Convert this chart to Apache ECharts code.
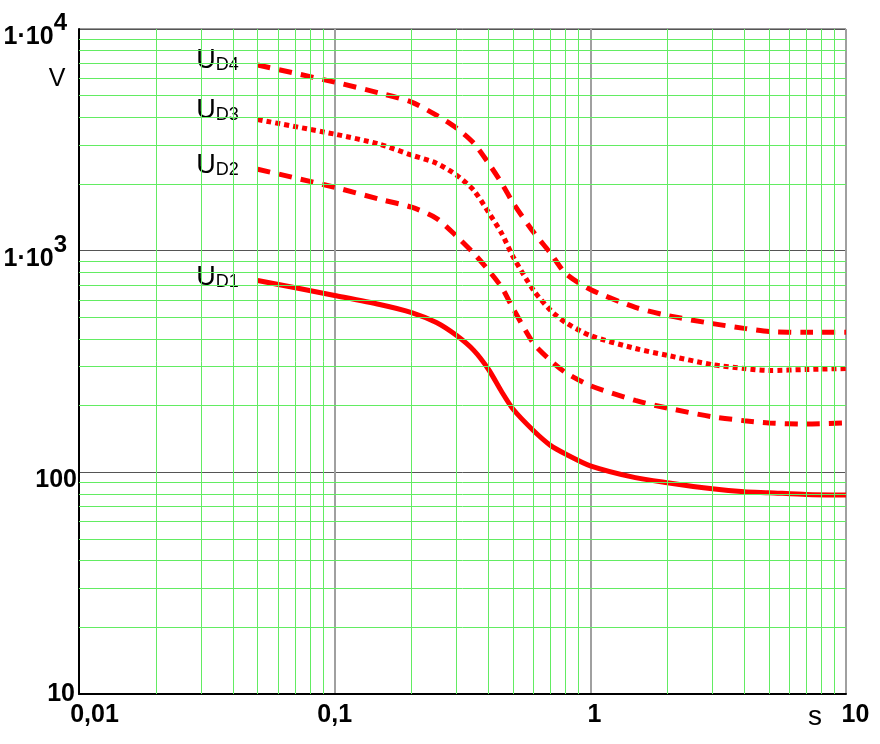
<!DOCTYPE html>
<html><head><meta charset="utf-8">
<script src="https://cdn.jsdelivr.net/npm/echarts@6/dist/echarts.min.js"></script>
<style>html,body{margin:0;padding:0;background:#fff}#c{width:880px;height:744px}</style>
</head><body><div id="c"></div>
<script>
// time axis (s)
const timeS = [0.05, 0.1, 0.15, 0.2, 0.25, 0.3, 0.35, 0.4, 0.45, 0.5, 0.6, 0.7, 0.8, 1, 1.5, 2, 3, 4, 5, 7, 10];
// voltages (V)
const ud1 = [734, 628, 572, 526, 474, 414, 355, 291, 231, 192, 154, 132, 121, 107, 94.6, 89.8, 84.3, 81.7, 80.9, 79.5, 79];
const ud2 = [2330, 1932, 1706, 1570, 1400, 1161, 972, 815, 683, 545, 381, 319, 282, 246, 211, 195, 178, 171, 167, 165, 167];
const ud3 = [3900, 3355, 3020, 2697, 2480, 2190, 1872, 1489, 1197, 933, 662, 537, 474, 414, 362, 337, 306, 294, 288, 291, 294];
const ud4 = [6880, 5760, 5140, 4680, 4085, 3570, 3055, 2480, 2015, 1636, 1210, 972, 789, 668, 555, 510, 469, 446, 432, 428, 428];
const seriesNames = ['D1', 'D2', 'D3', 'D4'];

// tick labels
const xTicks = [0.01, 0.1, 1, 10];
const xTickText = ['0,01', '0,1', '1', '10'];
const yTicks = [10, 100, 1000, 10000];
const yTickText = ['10', '100', '1·10', '1·10'];
const yTickExp = ['', '', '3', '4'];
const xUnit = 's';
const yUnit = 'V';

// minor grid lines
const xMinor = [0.02, 0.03, 0.04, 0.05, 0.06, 0.07, 0.08, 0.09, 0.2, 0.3, 0.4, 0.5, 0.6, 0.7, 0.8, 0.9, 2, 3, 4, 5, 6, 7, 8, 9];
const yMinor = [20, 30, 40, 50, 60, 70, 80, 90, 200, 300, 400, 500, 600, 700, 800, 900, 2000, 3000, 4000, 5000, 6000, 7000, 8000, 9000];

const FONT = "'Liberation Sans',Arial,sans-serif";
const RED = '#ff0000';
const GREEN = '#62ec62';
const TF = 25; // tick font size

function nearestIdx(arr, v) {
  let best = 0, bd = Infinity;
  arr.forEach((a, i) => { const d = Math.abs(Math.log10(a) - Math.log10(v)); if (d < bd) { bd = d; best = i; } });
  return best;
}

function curve(vals, name, dash, dy) {
  return {
    type: 'line', z: 3, symbol: 'circle', symbolSize: 0, showSymbol: true,
    smooth: 0.25, silent: true, animation: false,
    emphasis: { disabled: true },
    lineStyle: { color: RED, width: 5, type: dash, cap: 'butt' },
    itemStyle: { color: RED },
    data: timeS.map((t, i) => i === 0 ? {
      value: [t, vals[i]],
      label: {
        show: true, position: 'left', distance: 3, offset: [0, dy],
        formatter: '{u|U}{s|' + name + '}',
        backgroundColor: '#fff', padding: [5, 16, 12, 2],
        rich: {
          u: { fontSize: 27, lineHeight: 27, fontFamily: FONT, color: '#000', verticalAlign: 'top' },
          s: { fontSize: 18, lineHeight: 18, fontFamily: FONT, color: '#000', verticalAlign: 'bottom', padding: [12, 0, 0, 0] }
        }
      }
    } : [t, vals[i]])
  };
}

const chart = echarts.init(document.getElementById('c'), null, { renderer: 'canvas' });
chart.setOption({
  animation: false,
  backgroundColor: '#fff',
  grid: { left: 79, right: 34, top: 29, bottom: 50, containLabel: false, outerBoundsMode: 'none', show: true, borderColor: '#333', borderWidth: 1, backgroundColor: 'transparent' },
  xAxis: {
    type: 'log', logBase: 10, min: 0.01, max: 10,
    axisLine: { show: true, lineStyle: { color: '#000', width: 2 } },
    axisTick: { show: false },
    splitLine: { show: true, lineStyle: { color: '#a0a0a0', width: 2 } },
    axisLabel: {
      show: true, margin: 9, showMinLabel: true, showMaxLabel: true, hideOverlap: false,
      fontSize: TF, fontWeight: 'bold', fontFamily: FONT, color: '#000',
      formatter: v => {
        const i = nearestIdx(xTicks, v);
        const k = ['l', 'c', 'r1', 'r2'][i];
        return '{' + k + '|' + xTickText[i] + '}';
      },
      rich: {
        l: { fontSize: TF, fontWeight: 'bold', fontFamily: FONT, color: '#000', padding: [0, 0, 0, 31] },
        c: { fontSize: TF, fontWeight: 'bold', fontFamily: FONT, color: '#000' },
        r1: { fontSize: TF, fontWeight: 'bold', fontFamily: FONT, color: '#000', padding: [0, 0, 0, 8] },
        r2: { fontSize: TF, fontWeight: 'bold', fontFamily: FONT, color: '#000', padding: [0, 0, 0, 19] }
      }
    }
  },
  yAxis: {
    type: 'log', logBase: 10, min: 10, max: 10000,
    axisLine: { show: true, lineStyle: { color: '#000', width: 2 } },
    axisTick: { show: false },
    splitLine: { show: true, lineStyle: { color: '#555', width: 1 } },
    axisLabel: {
      show: true, margin: 2, showMinLabel: true, showMaxLabel: true, hideOverlap: false,
      fontSize: TF, fontWeight: 'bold', fontFamily: FONT, color: '#000',
      formatter: v => {
        const i = nearestIdx(yTicks, v);
        if (yTickExp[i]) return '{a|' + yTickText[i] + '}{sup|' + yTickExp[i] + '}';
        if (i === 0) return '{b|' + yTickText[i] + '}';
        return '{a|' + yTickText[i] + '}';
      },
      rich: {
        a: { fontSize: TF, fontWeight: 'bold', fontFamily: FONT, color: '#000', padding: [16, 0, 0, 0] },
        sup: { fontSize: 24, fontWeight: 'bold', fontFamily: FONT, color: '#000', verticalAlign: 'top', padding: [3, 10, 0, 0] },
        b: { fontSize: TF, fontWeight: 'bold', fontFamily: FONT, color: '#000', padding: [0, 2, 0, 0] }
      }
    }
  },
  graphic: [
    { type: 'text', x: 57, y: 79, silent: true, style: { text: yUnit, fontSize: 25, fontFamily: FONT, fill: '#000', align: 'center', verticalAlign: 'middle' } },
    { type: 'text', x: 815, y: 717, silent: true, style: { text: xUnit, fontSize: 28, fontFamily: FONT, fill: '#000', align: 'center', verticalAlign: 'middle' } }
  ],
  series: [
    {
      type: 'scatter', z: 1, data: [], silent: true,
      markLine: {
        silent: true, animation: false, symbol: ['none', 'none'],
        label: { show: false }, emphasis: { disabled: true },
        lineStyle: { color: GREEN, width: 1, type: 'solid' },
        data: xMinor.map(v => ({ xAxis: v })).concat(yMinor.map(v => ({ yAxis: v })))
      }
    },
    curve(ud1, seriesNames[0], 'solid', 1),
    curve(ud2, seriesNames[1], [13, 9], 0),
    curve(ud3, seriesNames[2], [5, 4], -6),
    curve(ud4, seriesNames[3], [13, 9], -1)
  ]
});
</script></body></html>
